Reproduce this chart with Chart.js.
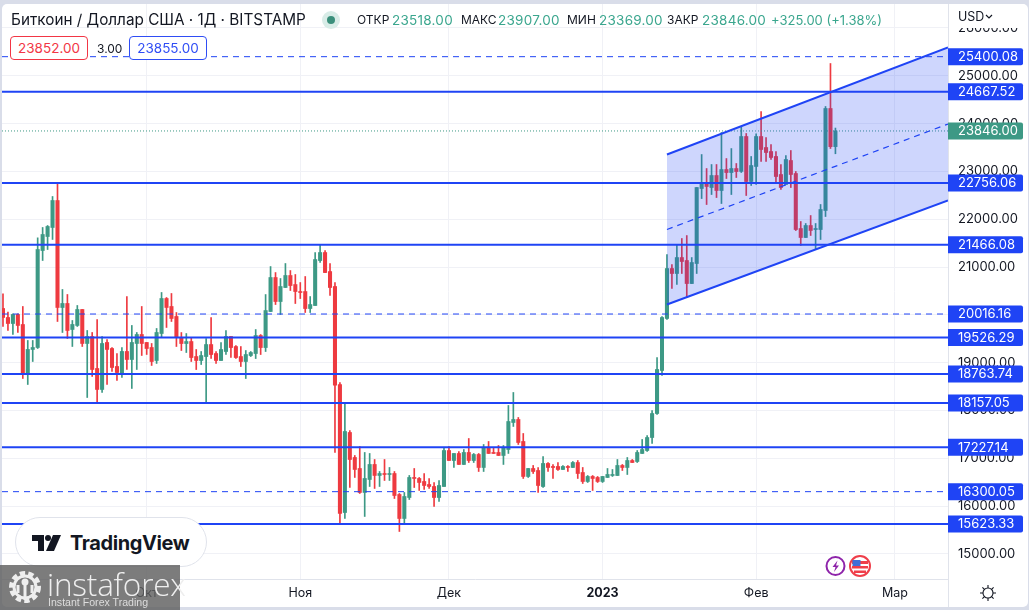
<!DOCTYPE html>
<html>
<head>
<meta charset="utf-8">
<title>BTCUSD</title>
<script src="https://cdn.jsdelivr.net/npm/chart.js@4/dist/chart.umd.min.js"></script>
<style>
  html, body { margin: 0; padding: 0; background: #d9dde9; overflow: hidden; }
  body { width: 1029px; height: 610px; position: relative; font-family: Inter, sans-serif; color: #131722; }
  #card { position: absolute; left: 2px; top: 4px; width: 1026px; height: 603px; background: #fff; border-radius: 5px; }
  canvas { position: absolute; left: 0; top: 0; }
  .t { position: absolute; white-space: nowrap; font-size: 12px; line-height: 16px; }
  .up { color: #3aa68e; font-size: 13.5px; letter-spacing: .25px; }
  .box { position: absolute; top: 36px; width: 76px; height: 22px; line-height: 22px; text-align: center; font-size: 13.5px; background: #fff; border-radius: 4px; border: 1px solid; }
  #usd { position: absolute; left: 949px; top: 4px; width: 78px; height: 24px; background: #fff; border-radius: 0 5px 0 0; }
  #sep { position: absolute; left: 948px; top: 579px; width: 1px; height: 28px; background: #e0e3eb; }
  #badge { position: absolute; left: 15px; top: 517px; width: 190px; height: 48px; border: 1px solid #e0e3eb; border-radius: 25px; background: #fff; }
  #wm { position: absolute; left: 0; top: 565px; width: 180px; height: 45px; background: rgba(95,95,95,.82); color: #eee; }
</style>
</head>
<body>
<div id="card"></div>
<canvas id="priceChart" width="1029" height="610"></canvas>

<div class="t" style="left:11px;top:11px;font-size:15.3px;line-height:18px">Биткоин / Доллар США · 1Д · BITSTAMP</div>
<svg style="position:absolute;left:322px;top:11px" width="18" height="18"><circle cx="9" cy="9" r="9" fill="#d8ece7"/><circle cx="9" cy="9" r="4" fill="#3a8f7b"/></svg>
<div class="t" style="left:357px;top:12px">ОТКР</div><div class="t up" style="left:392px;top:12px">23518.00</div>
<div class="t" style="left:461px;top:12px">МАКС</div><div class="t up" style="left:498px;top:12px">23907.00</div>
<div class="t" style="left:567px;top:12px">МИН</div><div class="t up" style="left:599px;top:12px">23369.00</div>
<div class="t" style="left:667px;top:12px">ЗАКР</div><div class="t up" style="left:702px;top:12px">23846.00</div>
<div class="t up" style="left:771px;top:12px;font-size:13px;letter-spacing:0">+325.00 (+1.38%)</div>

<div class="box" style="left:10px;color:#f23645;border-color:#f23645">23852.00</div>
<div class="t" style="left:97px;top:41px;font-size:12px">3.00</div>
<div class="box" style="left:129px;color:#2f4df5;border-color:#2f4df5">23855.00</div>

<div id="usd"><div class="t" style="left:9px;top:5px;font-size:12.5px">USD</div>
  <svg style="position:absolute;left:36px;top:10px" width="8" height="6"><path d="M1 1l3 3 3-3" fill="none" stroke="#131722" stroke-width="1.2"/></svg></div>
<div id="sep"></div>

<svg style="position:absolute;left:825px;top:555px" width="48" height="24">
  <circle cx="10.5" cy="11" r="9" fill="#fff" stroke="#8e24aa" stroke-width="2"/>
  <path d="M12.5 5.5L7.5 12h3l-1.5 5 5-6.5h-3z" fill="#8e24aa"/>
  <circle cx="35" cy="11" r="10" fill="#fff" stroke="#ef3e4a" stroke-width="2"/>
  <rect x="27" y="6" width="16" height="3" fill="#ef3e4a"/><rect x="27" y="11" width="16" height="2.5" fill="#ef3e4a"/><rect x="29" y="15.5" width="12" height="2.5" fill="#ef3e4a"/>
  <rect x="27.5" y="5" width="8" height="6" fill="#3f6fd8"/>
</svg>

<svg style="position:absolute;left:979px;top:584px" width="18" height="18" fill="none" stroke="#131722" stroke-width="1.1">
  <circle cx="9" cy="9" r="5"/>
  <path d="M9 1v3M9 14v3M1 9h3M14 9h3M3.4 3.4l2 2M12.6 12.6l2 2M3.4 14.6l2-2M12.6 5.4l2-2"/>
</svg>

<div id="badge"></div>
<svg style="position:absolute;left:31px;top:534px" width="32" height="18" fill="#131722">
  <path d="M1 1h12v16H7V7H1z"/><circle cx="17" cy="4" r="3"/><path d="M22 1h8l-7 16h-8z"/>
</svg>
<div class="t" style="left:70px;top:530px;font-size:20px;line-height:26px;font-weight:700;letter-spacing:-.4px">TradingView</div>

<div id="wm">
  <svg style="position:absolute;left:7px;top:3px" width="36" height="38" fill="none" stroke="#eee">
    <circle cx="18" cy="19" r="13" stroke-width="6" stroke-dasharray="5 3"/>
    <circle cx="18" cy="19" r="11" stroke-width="3"/>
    <circle cx="18" cy="14" r="3.5" fill="#eee" stroke="none"/>
    <path d="M18 17v15M11 17v8M25 17v8" stroke-width="3"/>
  </svg>
  <div class="t" style="left:47px;top:2px;font-size:31.5px;line-height:34px;font-family:'Open Sans',sans-serif;font-weight:300;letter-spacing:-.2px">instaforex</div>
  <div class="t" style="left:48px;top:30px;font-size:10.6px;line-height:14px;font-family:'Liberation Sans',sans-serif;color:#ddd">Instant Forex Trading</div>
</div>

<script>
const opens = [
    20132,19944,19818,20007,19797,18779,19275,19316,21345,21638,
    21827,22391,20153,20237,19693,19777,20111,19400,19546,18877,
    18438,19421,19295,18919,18772,19233,19065,19400,19588,19421,
    19316,19044,19609,20341,20174,19965,19525,19399,19441,19127,
    19044,19127,19378,19190,19044,19232,19546,19336,19127,19023,
    19148,19190,19567,19315,20069,20780,20278,20571,20822,20633,
    20487,20487,20131,20194,21135,21303,20905,20592,18542,15864,
    17538,17015,16785,16283,16555,16869,16639,16680,16659,16680,
    16241,15739,16178,16597,16576,16513,16450,16408,16178,16408,
    17161,16952,17099,16869,17120,16952,17078,16806,17224,17120,
    17120,17057,17182,17747,17810,17350,16618,16785,16743,16408,
    16890,16827,16827,16764,16827,16806,16910,16701,16513,16618,
    16597,16513,16597,16638,16638,16848,16806,16952,16931,17099,
    17161,17433,17935,18835,19923,20968,20864,21198,21136,20654,
    21073,22642,22767,22663,22914,22600,23039,22976,23060,23000,
    23730,22789,23103,23730,23500,23416,23312,22935,22726,23228,
    22956,21805,21617,21868,21784,21784,22182,24316,23518
];
const highs = [
    20439,20055,20021,20021,20174,19463,19463,21610,21827,21868,
    22475,22768,20530,20425,19881,20195,20111,19672,19630,19902,
    19546,19484,19316,19191,19316,20383,19777,19630,20174,19421,
    19400,19714,20467,20362,20446,20048,19629,19608,19525,19274,
    19232,19504,19943,19232,19420,19671,19546,19357,19336,19253,
    19232,19692,19587,20424,21010,20884,20759,21073,20926,20843,
    20675,20801,20382,21303,21470,21345,21073,20675,18584,18166,
    17580,17057,17245,17120,17099,16973,16722,16973,16806,16722,
    16262,16283,16639,16785,16597,16680,16576,16492,16534,17224,
    17245,17099,17141,17182,17412,17099,17099,17287,17350,17224,
    17266,17266,18103,18375,17852,17517,16785,16848,16806,17036,
    16910,16869,16910,16848,16848,16931,16952,16806,16638,16638,
    16618,16618,16785,16764,16973,16869,17015,16973,17161,17392,
    17475,17998,19107,19964,21261,21052,21470,21596,21658,21198,
    22663,23353,23060,23144,23144,23813,23269,23478,23165,23939,
    23793,23312,23786,24253,23709,23562,23416,23144,23333,23437,
    22998,21952,21910,22077,21910,22308,24358,25257,23907
];
const lows = [
    19756,19672,19588,19630,18668,18542,19023,19295,21136,21366,
    21576,19860,19630,19505,19337,19756,19337,18270,18710,18166,
    18375,18542,18814,18626,18689,18856,18459,18856,19149,19170,
    18940,18982,19526,19735,19860,19337,19253,19211,19023,18855,
    18960,18165,19085,18981,19044,19169,19106,19085,18918,18667,
    19127,19085,19169,19232,20069,20215,20006,20571,20508,20236,
    20340,20048,20048,20194,21094,20884,20403,17120,15614,15739,
    16387,16597,16262,15781,16408,16367,16408,16534,16534,16157,
    15467,15614,16136,16387,16325,16346,16367,15990,16095,16408,
    16952,16806,16869,16869,16910,16910,16722,16722,17099,17099,
    17057,16869,17099,17664,17287,16576,16597,16680,16283,16387,
    16722,16576,16743,16764,16722,16806,16576,16471,16492,16325,
    16492,16492,16597,16618,16638,16743,16659,16910,16910,17099,
    17141,17308,17914,18730,19902,20550,20634,20864,20361,20654,
    20864,22432,22307,22516,22453,22328,22851,22516,22872,22977,
    22496,22705,22726,23207,23207,23249,22747,22621,22726,22663,
    21763,21450,21617,21659,21366,21575,22056,23479,23369
];
const closes = [
    19944,19818,20007,19777,18759,19275,19316,21366,21680,21848,
    22391,20153,20237,19672,19798,20111,19400,19546,18856,18438,
    19400,19275,18898,18793,19233,19065,19421,19588,19400,19295,
    19023,19630,20341,20153,19923,19526,19399,19441,19106,19044,
    19148,19378,19169,19044,19274,19546,19315,19106,19023,19169,
    19211,19567,19315,20089,20780,20278,20592,20822,20612,20487,
    20466,20131,20215,21156,21303,20884,20571,18528,15844,17559,
    16973,16764,16283,16576,16869,16639,16680,16659,16680,16220,
    15739,16199,16597,16576,16492,16429,16408,16178,16429,17161,
    16952,17099,16869,17120,16952,17078,16806,17224,17099,17099,
    17057,17224,17768,17810,17329,16618,16785,16722,16429,16890,
    16806,16806,16764,16827,16806,16910,16680,16513,16618,16576,
    16513,16618,16660,16660,16848,16806,16952,16910,17120,17182,
    17433,17935,18856,19943,20968,20864,21198,21115,20654,21094,
    22663,22767,22684,22914,22600,23039,22976,23060,22997,23730,
    22789,23123,23730,23458,23395,23291,22893,22663,23249,22935,
    21784,21617,21868,21764,21805,22203,24316,23518,23846
];

const monthTicks = [29, 60, 90, 121, 152, 180];
const monthLabels = ['Окт', 'Ноя', 'Дек', '2023', 'Фев', 'Мар'];
const priceTicks = [15000, 16000, 17000, 18000, 19000, 20000, 21000, 22000, 23000, 24000, 25000, 26000];

const solidLevels = [24667.52, 22756.06, 21466.08, 19526.29, 18763.74, 18157.05, 17227.14, 15623.33];
const dashedLevels = [25400.08, 20016.16, 16300.05];
const lastPrice = 23846;

const channelX = [134, 190.72];
const channelTop = [23353, 25592];
const channelMid = [21784, 23991];
const channelBottom = [20215, 22391];

const xMin = -0.2, xMax = 190.72;
const yMin = 14473, yMax = 26502;

const upColor = '#3d9985', downColor = '#ee3a40', lineColor = '#1f44f5';
const candleColors = closes.map((c, i) => c >= opens[i] ? upColor : downColor);

function levelDataset(value, extra) {
    return Object.assign({
        type: 'line',
        data: [{x: xMin, y: value}, {x: xMax, y: value}],
        borderColor: lineColor,
        borderWidth: 2,
        pointRadius: 0,
        tension: 0,
        order: 1
    }, extra);
}

function channelDataset(values, extra) {
    return Object.assign({
        type: 'line',
        data: [{x: channelX[0], y: values[0]}, {x: channelX[1], y: values[1]}],
        borderColor: lineColor,
        borderWidth: 2,
        pointRadius: 0,
        tension: 0,
        order: 2
    }, extra);
}

const datasets = [
    {
        type: 'bar',
        data: lows.map((l, i) => ({x: i, y: [l, highs[i]]})),
        backgroundColor: candleColors,
        barThickness: 1,
        grouped: false,
        order: 6
    },
    {
        type: 'bar',
        data: opens.map((o, i) => ({x: i, y: [o, closes[i]]})),
        backgroundColor: candleColors,
        barThickness: 3.4,
        grouped: false,
        order: 5
    },
    channelDataset(channelBottom, {}),
    channelDataset(channelTop, {fill: {target: 2}, backgroundColor: 'rgba(31,68,245,0.22)', order: 3}),
    channelDataset(channelMid, {borderWidth: 1.2, borderDash: [6, 5]}),
    levelDataset(lastPrice, {borderColor: upColor, borderWidth: 1, borderDash: [1, 2], order: 4})
];
solidLevels.forEach(v => datasets.push(levelDataset(v, {})));
dashedLevels.forEach(v => datasets.push(levelDataset(v, {borderWidth: 1, borderDash: [6, 5]})));

// price tags on the right axis
const priceTags = {
    id: 'priceTags',
    afterDraw(chart) {
        const c = chart.ctx, y = chart.scales.y, left = chart.chartArea.right;
        c.save();
        c.font = '13px Inter';
        c.textBaseline = 'middle';
        const tag = (v, col) => {
            const py = y.getPixelForValue(v);
            c.fillStyle = col;
            c.beginPath();
            c.roundRect(left, py - 8.5, 75, 17, [0, 2, 2, 0]);
            c.fill();
            c.fillStyle = '#fff';
            c.fillText(v.toFixed(2), left + 10, py + 0.5);
        };
        solidLevels.concat(dashedLevels).forEach(v => tag(v, lineColor));
        tag(lastPrice, upColor);
        c.restore();
    }
};

const ctx = document.getElementById('priceChart').getContext('2d');
new Chart(ctx, {
    data: {datasets: datasets},
    plugins: [priceTags],
    options: {
        responsive: false,
        animation: false,
        layout: {padding: {left: 2, top: 4, right: 0, bottom: 0}},
        plugins: {legend: {display: false}, tooltip: {enabled: false}},
        scales: {
            x: {
                type: 'linear',
                min: xMin,
                max: xMax,
                offset: false,
                afterBuildTicks(axis) { axis.ticks = monthTicks.map(v => ({value: v})); },
                afterFit(axis) {
                    axis.height = 31;
                    axis.paddingLeft = 0;
                    axis.paddingRight = 0;
                },
                grid: {color: '#f0f1f6', offset: false, drawTicks: false},
                border: {color: '#e0e3eb'},
                ticks: {
                    autoSkip: false,
                    maxRotation: 0,
                    padding: 7,
                    color: '#131722',
                    font: c => ({family: 'Inter', size: 12.5, weight: c.tick && c.tick.value === 121 ? 'bold' : 'normal'}),
                    callback: v => monthLabels[monthTicks.indexOf(v)]
                }
            },
            y: {
                position: 'right',
                min: yMin,
                max: yMax,
                afterBuildTicks(axis) { axis.ticks = priceTicks.map(v => ({value: v})); },
                afterFit(axis) {
                    axis.width = 81;
                    axis.paddingTop = 0;
                    axis.paddingBottom = 0;
                },
                grid: {color: '#f0f1f6', drawTicks: false},
                border: {color: '#e0e3eb'},
                ticks: {
                    autoSkip: false,
                    padding: 10,
                    color: '#131722',
                    font: {family: 'Inter', size: 13},
                    callback: v => v.toFixed(2)
                }
            }
        }
    }
});
</script>
</body>
</html>
